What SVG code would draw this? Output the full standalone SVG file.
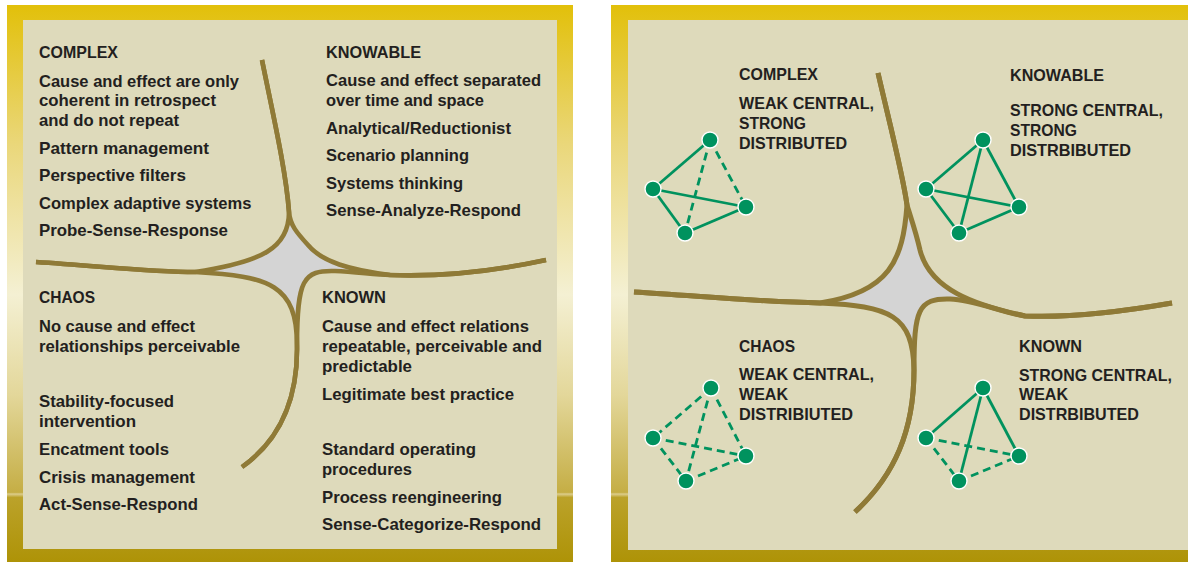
<svg xmlns="http://www.w3.org/2000/svg" width="1188" height="562" viewBox="0 0 1188 562">
<defs>
<linearGradient id="frameGrad" x1="0" y1="5" x2="0" y2="562" gradientUnits="userSpaceOnUse">
<stop offset="0" stop-color="#E2C00A"/>
<stop offset="0.25" stop-color="#EAD77A"/>
<stop offset="0.52" stop-color="#F4F0D3"/>
<stop offset="0.7" stop-color="#E3D79A"/>
<stop offset="0.875" stop-color="#C5AE45"/>
<stop offset="0.878" stop-color="#DCCD8C"/>
<stop offset="0.884" stop-color="#BBA22A"/>
<stop offset="1" stop-color="#AE9307"/>
</linearGradient>
<style>
.inner{fill:#DEDABB}
.star{fill:#D4D4D4;stroke:none}
.curve{fill:none;stroke:#8F7A37;stroke-width:4.6;stroke-linejoin:round}
.t{font-family:"Liberation Sans",Arial,sans-serif;font-weight:bold;font-size:16.5px;fill:#231F20}
.e{stroke:#00925E;stroke-width:2.8;fill:none}
.d{stroke-dasharray:8 5}
.n{fill:#00925E;stroke:#FFFFFF;stroke-width:1.4}
</style>
</defs>

<g id="left-panel">
<rect x="7" y="5" width="566" height="557" fill="url(#frameGrad)"/>
<rect class="inner" x="23" y="20" width="534" height="529"/>
<path class="star" d="M289,212 C289,248 262,262 195,272 C270,276 297,285 297,345 C297,280 303,270 335,271 C355,272 372,274 390,275 C350,270 322,262 308,245 C297,233 290,225 289,212 Z"/>
<g id="left-connectors">
<path class="curve" d="M262,60 C272,110 286,170 289,212 C289,248 262,262 195,272 C150,272 100,266 36,262"/>
<path class="curve" d="M262,60 C272,110 286,170 289,212 C290,225 297,233 308,245 C322,262 350,270 390,275 C440,277 490,272 546,260"/>
<path class="curve" d="M36,262 C100,266 150,272 195,272 C270,276 297,285 297,345 C298,400 280,440 242,467"/>
<path class="curve" d="M242,467 C280,440 298,400 297,345 C297,280 303,270 335,271 C355,272 372,274 390,275 C440,277 490,272 546,260"/>
</g>
<g id="left-complex">
<text class="t" x="39" y="58" textLength="79" lengthAdjust="spacingAndGlyphs">COMPLEX</text>
<text class="t" x="39" y="86.5" textLength="200" lengthAdjust="spacingAndGlyphs">Cause and effect are only</text>
<text class="t" x="39" y="106" textLength="177" lengthAdjust="spacingAndGlyphs">coherent in retrospect</text>
<text class="t" x="39" y="125.5" textLength="140" lengthAdjust="spacingAndGlyphs">and do not repeat</text>
<text class="t" x="39" y="153.5" textLength="170" lengthAdjust="spacingAndGlyphs">Pattern management</text>
<text class="t" x="39" y="180.5" textLength="147" lengthAdjust="spacingAndGlyphs">Perspective filters</text>
<text class="t" x="39" y="208.5" textLength="212.5" lengthAdjust="spacingAndGlyphs">Complex adaptive systems</text>
<text class="t" x="39" y="236" textLength="189" lengthAdjust="spacingAndGlyphs">Probe-Sense-Response</text>
</g>
<g id="left-knowable">
<text class="t" x="326" y="58" textLength="95" lengthAdjust="spacingAndGlyphs">KNOWABLE</text>
<text class="t" x="326" y="86" textLength="215" lengthAdjust="spacingAndGlyphs">Cause and effect separated</text>
<text class="t" x="326" y="106" textLength="158" lengthAdjust="spacingAndGlyphs">over time and space</text>
<text class="t" x="326" y="134" textLength="185" lengthAdjust="spacingAndGlyphs">Analytical/Reductionist</text>
<text class="t" x="326" y="161" textLength="143" lengthAdjust="spacingAndGlyphs">Scenario planning</text>
<text class="t" x="326" y="189" textLength="137" lengthAdjust="spacingAndGlyphs">Systems thinking</text>
<text class="t" x="326" y="216" textLength="195" lengthAdjust="spacingAndGlyphs">Sense-Analyze-Respond</text>
</g>
<g id="left-chaos">
<text class="t" x="39" y="303" textLength="56" lengthAdjust="spacingAndGlyphs">CHAOS</text>
<text class="t" x="39" y="331.5" textLength="156" lengthAdjust="spacingAndGlyphs">No cause and effect</text>
<text class="t" x="39" y="351.5" textLength="201" lengthAdjust="spacingAndGlyphs">relationships perceivable</text>
<text class="t" x="39" y="406.5" textLength="135" lengthAdjust="spacingAndGlyphs">Stability-focused</text>
<text class="t" x="39" y="426.5" textLength="97" lengthAdjust="spacingAndGlyphs">intervention</text>
<text class="t" x="39" y="455" textLength="130" lengthAdjust="spacingAndGlyphs">Encatment tools</text>
<text class="t" x="39" y="482.5" textLength="156" lengthAdjust="spacingAndGlyphs">Crisis management</text>
<text class="t" x="39" y="510" textLength="159" lengthAdjust="spacingAndGlyphs">Act-Sense-Respond</text>
</g>
<g id="left-known">
<text class="t" x="322" y="303" textLength="64" lengthAdjust="spacingAndGlyphs">KNOWN</text>
<text class="t" x="322" y="331.5" textLength="207" lengthAdjust="spacingAndGlyphs">Cause and effect relations</text>
<text class="t" x="322" y="351.5" textLength="220" lengthAdjust="spacingAndGlyphs">repeatable, perceivable and</text>
<text class="t" x="322" y="371.5" textLength="90" lengthAdjust="spacingAndGlyphs">predictable</text>
<text class="t" x="322" y="400" textLength="192" lengthAdjust="spacingAndGlyphs">Legitimate best practice</text>
<text class="t" x="322" y="455" textLength="154" lengthAdjust="spacingAndGlyphs">Standard operating</text>
<text class="t" x="322" y="475" textLength="90" lengthAdjust="spacingAndGlyphs">procedures</text>
<text class="t" x="322" y="503" textLength="180" lengthAdjust="spacingAndGlyphs">Process reengineering</text>
<text class="t" x="322" y="530" textLength="219" lengthAdjust="spacingAndGlyphs">Sense-Categorize-Respond</text>
</g>
</g>

<g id="right-panel">
<rect x="611" y="5" width="577" height="557" fill="url(#frameGrad)"/>
<rect class="inner" x="628" y="20" width="560" height="530"/>
<path class="star" d="M907,205 C903,260 890,292 820,303 C890,306 913,315 914,370 C914,310 918,298 950,299 C975,300 1000,312 1025,316 C975,305 930,290 920,250 C916,232 910,215 907,205 Z"/>
<g id="right-connectors">
<path class="curve" style="stroke-width:5" d="M878,73 C890,125 903,175 907,205 C903,260 890,292 820,303 C760,302 700,296 634,292"/>
<path class="curve" style="stroke-width:5" d="M878,73 C890,125 903,175 907,205 C910,215 916,232 920,250 C930,290 975,305 1025,316 C1070,318 1120,312 1172,303"/>
<path class="curve" style="stroke-width:5" d="M634,292 C700,296 760,302 820,303 C890,306 913,315 914,370 C914,430 895,475 855,512"/>
<path class="curve" style="stroke-width:5" d="M855,512 C895,475 914,430 914,370 C914,310 918,298 950,299 C975,300 1000,312 1025,316 C1070,318 1120,312 1172,303"/>
</g>

<g id="complex">
<text class="t" x="739" y="80" textLength="79" lengthAdjust="spacingAndGlyphs">COMPLEX</text>
<text class="t" x="739" y="109" textLength="135" lengthAdjust="spacingAndGlyphs">WEAK CENTRAL,</text>
<text class="t" x="739" y="129" textLength="67" lengthAdjust="spacingAndGlyphs">STRONG</text>
<text class="t" x="739" y="149" textLength="108" lengthAdjust="spacingAndGlyphs">DISTRIBUTED</text>
<g id="complex-edges">
<line class="e" x1="710" y1="140" x2="653" y2="189"/>
<line class="e" x1="653" y1="189" x2="746" y2="207"/>
<line class="e" x1="653" y1="189" x2="685" y2="233"/>
<line class="e" x1="685" y1="233" x2="746" y2="207"/>
<line class="e d" x1="710" y1="140" x2="685" y2="233"/>
<line class="e d" x1="710" y1="140" x2="746" y2="207"/>
</g>
<circle id="complex-n1" class="n" cx="710" cy="140" r="8"/>
<circle id="complex-n2" class="n" cx="653" cy="189" r="8"/>
<circle id="complex-n3" class="n" cx="746" cy="207" r="8"/>
<circle id="complex-n4" class="n" cx="685" cy="233" r="8"/>
</g>

<g id="knowable">
<text class="t" x="1010" y="81" textLength="94" lengthAdjust="spacingAndGlyphs">KNOWABLE</text>
<text class="t" x="1010" y="116" textLength="153" lengthAdjust="spacingAndGlyphs">STRONG CENTRAL,</text>
<text class="t" x="1010" y="136" textLength="67" lengthAdjust="spacingAndGlyphs">STRONG</text>
<text class="t" x="1010" y="156" textLength="121" lengthAdjust="spacingAndGlyphs">DISTRBIBUTED</text>
<g id="knowable-edges">
<line class="e" x1="983" y1="140" x2="926" y2="189"/>
<line class="e" x1="983" y1="140" x2="1019" y2="207"/>
<line class="e" x1="983" y1="140" x2="959" y2="233"/>
<line class="e" x1="926" y1="189" x2="1019" y2="207"/>
<line class="e" x1="926" y1="189" x2="959" y2="233"/>
<line class="e" x1="959" y1="233" x2="1019" y2="207"/>
</g>
<circle id="knowable-n1" class="n" cx="983" cy="140" r="8"/>
<circle id="knowable-n2" class="n" cx="926" cy="189" r="8"/>
<circle id="knowable-n3" class="n" cx="1019" cy="207" r="8"/>
<circle id="knowable-n4" class="n" cx="959" cy="233" r="8"/>
</g>

<g id="chaos">
<text class="t" x="739" y="352" textLength="56" lengthAdjust="spacingAndGlyphs">CHAOS</text>
<text class="t" x="739" y="380" textLength="135" lengthAdjust="spacingAndGlyphs">WEAK CENTRAL,</text>
<text class="t" x="739" y="400" textLength="49" lengthAdjust="spacingAndGlyphs">WEAK</text>
<text class="t" x="739" y="420" textLength="114" lengthAdjust="spacingAndGlyphs">DISTRIBIUTED</text>
<g id="chaos-edges">
<line class="e d" x1="711" y1="388" x2="653" y2="438"/>
<line class="e d" x1="711" y1="388" x2="746" y2="456"/>
<line class="e d" x1="711" y1="388" x2="686" y2="481"/>
<line class="e d" x1="653" y1="438" x2="746" y2="456"/>
<line class="e d" x1="653" y1="438" x2="686" y2="481"/>
<line class="e d" x1="686" y1="481" x2="746" y2="456"/>
</g>
<circle id="chaos-n1" class="n" cx="711" cy="388" r="8"/>
<circle id="chaos-n2" class="n" cx="653" cy="438" r="8"/>
<circle id="chaos-n3" class="n" cx="746" cy="456" r="8"/>
<circle id="chaos-n4" class="n" cx="686" cy="481" r="8"/>
</g>

<g id="known">
<text class="t" x="1019" y="352" textLength="63" lengthAdjust="spacingAndGlyphs">KNOWN</text>
<text class="t" x="1019" y="381" textLength="153" lengthAdjust="spacingAndGlyphs">STRONG CENTRAL,</text>
<text class="t" x="1019" y="400" textLength="49" lengthAdjust="spacingAndGlyphs">WEAK</text>
<text class="t" x="1019" y="420" textLength="120" lengthAdjust="spacingAndGlyphs">DISTRBIBUTED</text>
<g id="known-edges">
<line class="e" x1="983" y1="388" x2="926" y2="438"/>
<line class="e" x1="983" y1="388" x2="1019" y2="456"/>
<line class="e" x1="983" y1="388" x2="959" y2="481"/>
<line class="e d" x1="926" y1="438" x2="1019" y2="456"/>
<line class="e d" x1="926" y1="438" x2="959" y2="481"/>
<line class="e d" x1="959" y1="481" x2="1019" y2="456"/>
</g>
<circle id="known-n1" class="n" cx="983" cy="388" r="8"/>
<circle id="known-n2" class="n" cx="926" cy="438" r="8"/>
<circle id="known-n3" class="n" cx="1019" cy="456" r="8"/>
<circle id="known-n4" class="n" cx="959" cy="481" r="8"/>
</g>
</g>
</svg>
